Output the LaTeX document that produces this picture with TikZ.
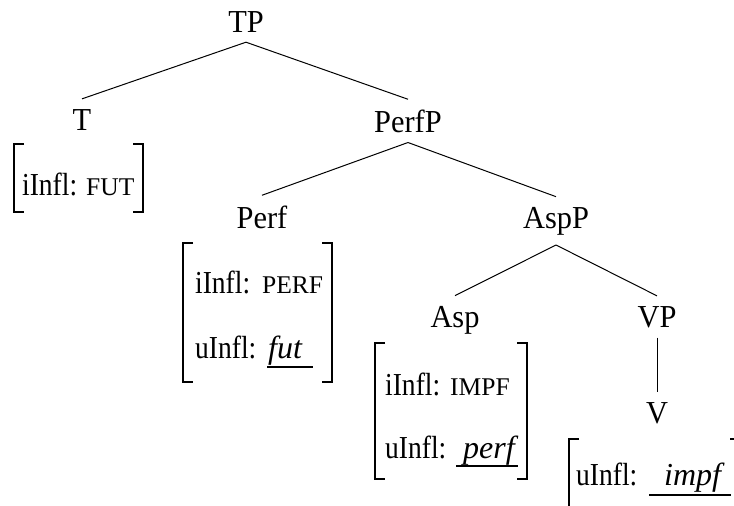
\documentclass[tikz,border=0pt]{standalone}
\usepackage{fontspec}
\setmainfont{Liberation Serif}
\begin{document}
\begin{tikzpicture}[x=1pt,y=-1pt,
  lab/.style={font=\fontsize{32}{38}\selectfont, inner sep=10pt, anchor=base, xscale=0.95},
  feat/.style={font=\fontsize{32}{38}\selectfont, inner sep=0pt, anchor=base west, xscale=0.86},
  smc/.style={font=\fontsize{25.5}{30}\selectfont, inner sep=0pt, anchor=base west},
  val/.style={font=\fontsize{32}{38}\selectfont\itshape, inner sep=0pt, anchor=base west},
  edge/.style={line width=1pt},
  brk/.style={line width=1.8pt},
  uline/.style={line width=2pt}]
\useasboundingbox (0,0) rectangle (734,506);
\begin{scope}
\clip (0,0) rectangle (734,506);
% tree labels
\node[lab] (tp) at (246,32) {TP};
\node[lab] (t) at (82,130) {T};
\node[lab] (perfp) at (408,132) {PerfP};
\node[lab] (perf) at (262,228) {Perf};
\node[lab] (aspp) at (556,228) {AspP};
\node[lab] (asp) at (455,327) {Asp};
\node[lab] (vp) at (657,327) {VP};
\node[lab] (v) at (657,423) {V};
% edges
\draw[edge] (tp.south) -- (t.north);
\draw[edge] (tp.south) -- (perfp.north);
\draw[edge] (perfp.south) -- (perf.north);
\draw[edge] (perfp.south) -- (aspp.north);
\draw[edge] (aspp.south) -- (asp.north);
\draw[edge] (aspp.south) -- (vp.north);
\draw[edge] (vp.south) -- (v.north);
% T features
\draw[brk] (24,144) -- (14,144) -- (14,212) -- (24,212);
\draw[brk] (133,144) -- (143,144) -- (143,212) -- (133,212);
\node[feat] (tf1) at (22,195) {iInfl:};
\node[smc] (tv1) at (86,195) {FUT};
% Perf features
\draw[brk] (193,243) -- (183,243) -- (183,382) -- (193,382);
\draw[brk] (322,243) -- (332,243) -- (332,382) -- (322,382);
\node[feat] (pf1) at (195,293) {iInfl:};
\node[smc] (pv1) at (262,293) {PERF};
\node[feat] (pf2) at (195,358) {uInfl:};
\node[val] (pv2) at (268,358) {fut};
\draw[uline] (267,367) -- (313,367);
% Asp features
\draw[brk] (385,343) -- (375,343) -- (375,479) -- (385,479);
\draw[brk] (517,343) -- (527,343) -- (527,479) -- (517,479);
\node[feat] (af1) at (385,395) {iInfl:};
\node[smc] (av1) at (450,395) {IMPF};
\node[feat] (af2) at (385,458) {uInfl:};
\node[val] (av2) at (463,458) {perf};
\draw[uline] (456,466) -- (518,466);
% V features
\draw[brk] (579,439) -- (569,439) -- (569,520);
\draw[brk] (730,439) -- (740,439) -- (740,520);
\node[feat] (vf1) at (576,485) {uInfl:};
\node[val] (vv1) at (664,485) {impf};
\draw[uline] (649,495) -- (731,495);
\end{scope}
\end{tikzpicture}
\end{document}
